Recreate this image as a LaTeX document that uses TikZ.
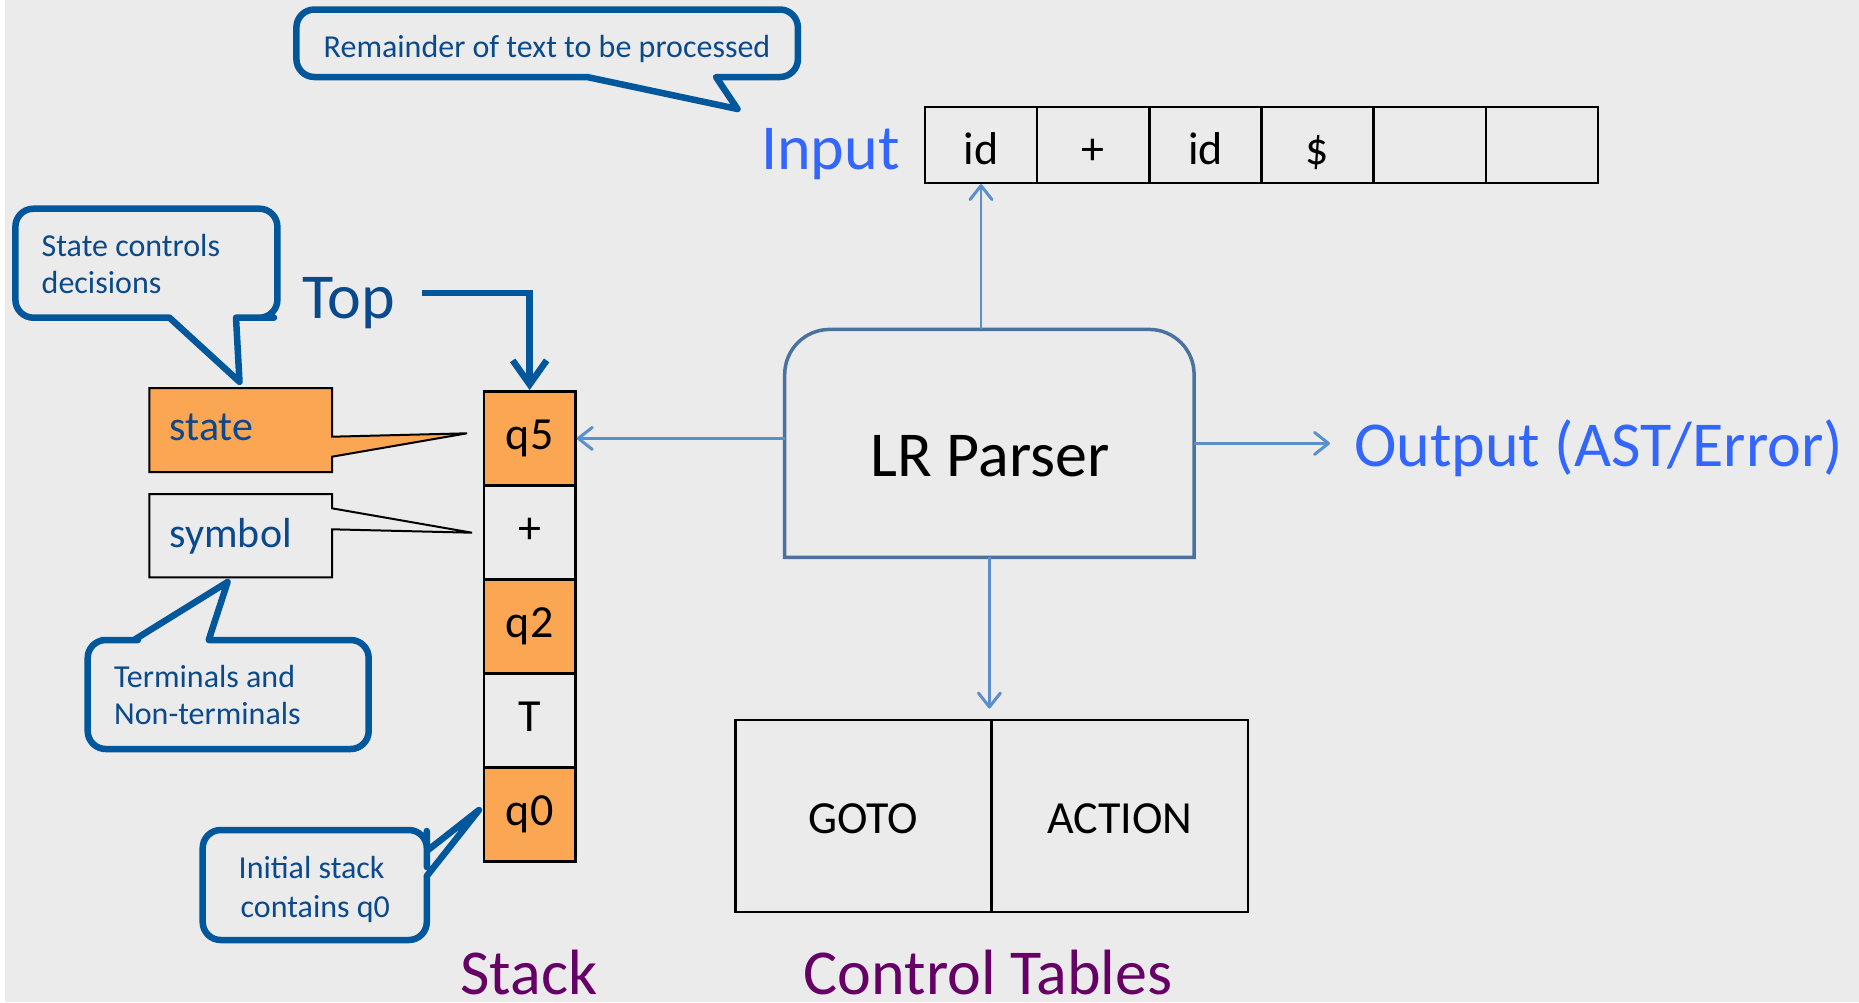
\documentclass[tikz,border=0pt]{standalone}
\usepackage{fontspec}
\setmainfont{Carlito}
\usetikzlibrary{arrows.meta}

\definecolor{bg}{HTML}{EBEBEB}
\definecolor{calloutblue}{HTML}{00579B}
\definecolor{navytext}{HTML}{0A4A8C}
\definecolor{brightblue}{HTML}{3366FF}
\definecolor{linkblue}{HTML}{5B8FCB}
\definecolor{parserblue}{HTML}{4A72A0}
\definecolor{stateorange}{HTML}{FAA652}
\definecolor{titlepurple}{HTML}{660066}

\newcommand{\pxfont}[1]{\fontsize{#1}{#1}\selectfont}

\tikzset{
  bigtext/.style={font=\pxfont{64}, inner sep=0pt},
  notetext/.style={font=\pxfont{32}, text=navytext, inner sep=0pt},
  tagtext/.style={font=\pxfont{42}, text=navytext, inner sep=0pt},
  callout/.style={draw=calloutblue, line width=6.5pt, line join=round},
  tagbox/.style={draw=black, line width=2pt, line join=miter},
  stackcell/.style={draw=black, line width=2.8pt, anchor=north west, inner sep=0pt,
    minimum width=91.5pt, minimum height=94pt, font=\pxfont{46},
    text height=29.9pt, text depth=8.3pt},
  statecell/.style={stackcell, fill=stateorange},
  inputcell/.style={draw=black, line width=2.6pt, anchor=north west, inner sep=0pt,
    minimum width=112.2pt, minimum height=76pt, font=\pxfont{46},
    text height=41.4pt, text depth=2.8pt},
  tablecell/.style={draw=black, line width=2.6pt, anchor=north west, inner sep=0pt,
    minimum width=256.3pt, minimum height=192pt, font=\pxfont{46},
    text height=35.9pt, text depth=0pt},
  link/.style={draw=linkblue, line width=2.2pt,
    -{Straight Barb[length=14pt,width=22pt,line width=3pt,round]}},
  toparrow/.style={draw=calloutblue, line width=6.5pt,
    -{Straight Barb[length=24pt,width=34pt]}},
}

\begin{document}
\begin{tikzpicture}[x=1pt, y=-1pt]
  \useasboundingbox (0,0) rectangle (1859,1002);
  \fill[bg] (0,0) rectangle (1859,1002);
  \fill[white] (0,0) rectangle (5,1002);

  % ---- input tape ----
  \node[bigtext, text=brightblue, anchor=base west] (inputlbl) at (761,169.5) {Input};
  \node[inputcell] (in1) at (923.6,105.5) {id};
  \node[inputcell] (in2) at (1035.8,105.5) {+};
  \node[inputcell] (in3) at (1148.0,105.5) {id};
  \node[inputcell] (in4) at (1260.2,105.5) {\$};
  \node[inputcell] (in5) at (1372.4,105.5) {};
  \node[inputcell] (in6) at (1484.6,105.5) {};

  % ---- stack ----
  \node[statecell] (q5) at (482.5,390) {q5};
  \node[stackcell] (plus) at (482.5,484) {+};
  \node[statecell] (q2) at (482.5,578) {q2};
  \node[stackcell] (tsym) at (482.5,672) {T};
  \node[statecell] (q0) at (482.5,766) {q0};
  \node[bigtext, text=titlepurple, anchor=base] (stacklbl) at (529,994) {Stack};

  % ---- top-of-stack pointer ----
  \node[bigtext, text=navytext, anchor=base west] (toplbl) at (302,318) {Top};
  \coordinate (topstart) at (422,292.8);
  \draw[toparrow] (topstart) -| (q5.north);

  % ---- parser ----
  \node[minimum width=409pt, minimum height=227.6pt, inner sep=0pt] (parser) at (989.4,443.4) {};
  \draw[draw=parserblue, line width=3.5pt]
    (parser.west) [rounded corners=45pt] -- (parser.north west) -- (parser.north east) -- (parser.east)
    [sharp corners] -- (parser.south east) -- (parser.south west) -- cycle;
  \node[bigtext, anchor=base] (parsertxt) at (990,476.6) {LR Parser};

  % ---- output ----
  \node[bigtext, text=brightblue, anchor=base west] (outlbl) at (1354,466) {Output (AST/Error)};

  % ---- control tables ----
  \node[tablecell] (goto) at (734,718.5) {GOTO};
  \node[tablecell] (action) at (990.3,718.5) {ACTION};
  \node[bigtext, text=titlepurple, anchor=base] (ctlbl) at (988,994) {Control Tables};

  % ---- connectors ----
  \draw[link] (parser.north -| in1.south) -- (in1.south);
  \draw[link] (parser.west |- q5.east) -- (q5.east);
  \draw[link, shorten >=24pt] (parser.east) -- (parser.east -| outlbl.west);
  \draw[link, shorten >=10pt] (parser.south) -- (parser.south |- goto.north);

  % ---- state / symbol tags ----
  \draw[tagbox, fill=stateorange]
    (149.4,388) -- (332,388) -- (332,436.7) -- (467,433.3) -- (332,456.7)
    -- (332,472) -- (149.4,472) -- cycle;
  \node[tagtext, anchor=base west] (statetxt) at (169.5,440) {state};
  \draw[tagbox]
    (149.4,494) -- (332,494) -- (332,508.3) -- (472,532.7) -- (332,529.3)
    -- (332,577.3) -- (149.4,577.3) -- cycle;
  \node[tagtext, anchor=base west] (symtxt) at (169.5,547) {symbol};

  % ---- callouts ----
  \draw[callout] (547,9.5) [rounded corners=18pt] -- (797.9,9.5) -- (797.9,77) -- (757,77)
    [sharp corners] -- (716,77) -- (737.5,109) -- (587,77) -- (560,77)
    [rounded corners=18pt] -- (296.4,77) -- (296.4,9.5) -- cycle;
  \node[notetext, anchor=base] (remtxt) at (547,57) {Remainder of text to be processed};

  \draw[callout] (146,208.7) [rounded corners=18pt] -- (277.4,208.7) -- (277.4,317.7) -- (256,317.7)
    [sharp corners] -- (236,317.7) -- (239.5,381.8) -- (169.5,317.7) -- (150,317.7)
    [rounded corners=18pt] -- (15.4,317.7) -- (15.4,208.7) -- cycle;
  \node[notetext, anchor=base west] (sc1) at (41.5,256) {State controls};
  \node[notetext, anchor=base west] (sc2) at (41.5,293) {decisions};

  \draw[callout] (300,640) [rounded corners=18pt] -- (368.7,640) -- (368.7,749) -- (87.7,749)
    -- (87.7,640) -- (120,640)
    [sharp corners] -- (134,640) -- (227.6,582) -- (208.7,640) -- cycle;
  \node[notetext, anchor=base west] (tn1) at (114,687) {Terminals and};
  \node[notetext, anchor=base west] (tn2) at (114,724) {Non-terminals};

  \draw[callout] (314,830) [rounded corners=18pt] -- (426.8,830) -- (426.8,849)
    [sharp corners] -- (426.8,851) -- (479,810) -- (426.8,876) -- (426.8,890)
    [rounded corners=18pt] -- (426.8,940) -- (202.7,940) -- (202.7,830) -- cycle;
  \node[notetext, anchor=base west] (is1) at (238.5,878) {Initial stack};
  \node[notetext, anchor=base west] (is2) at (240.5,917) {contains q0};
\end{tikzpicture}
\end{document}
